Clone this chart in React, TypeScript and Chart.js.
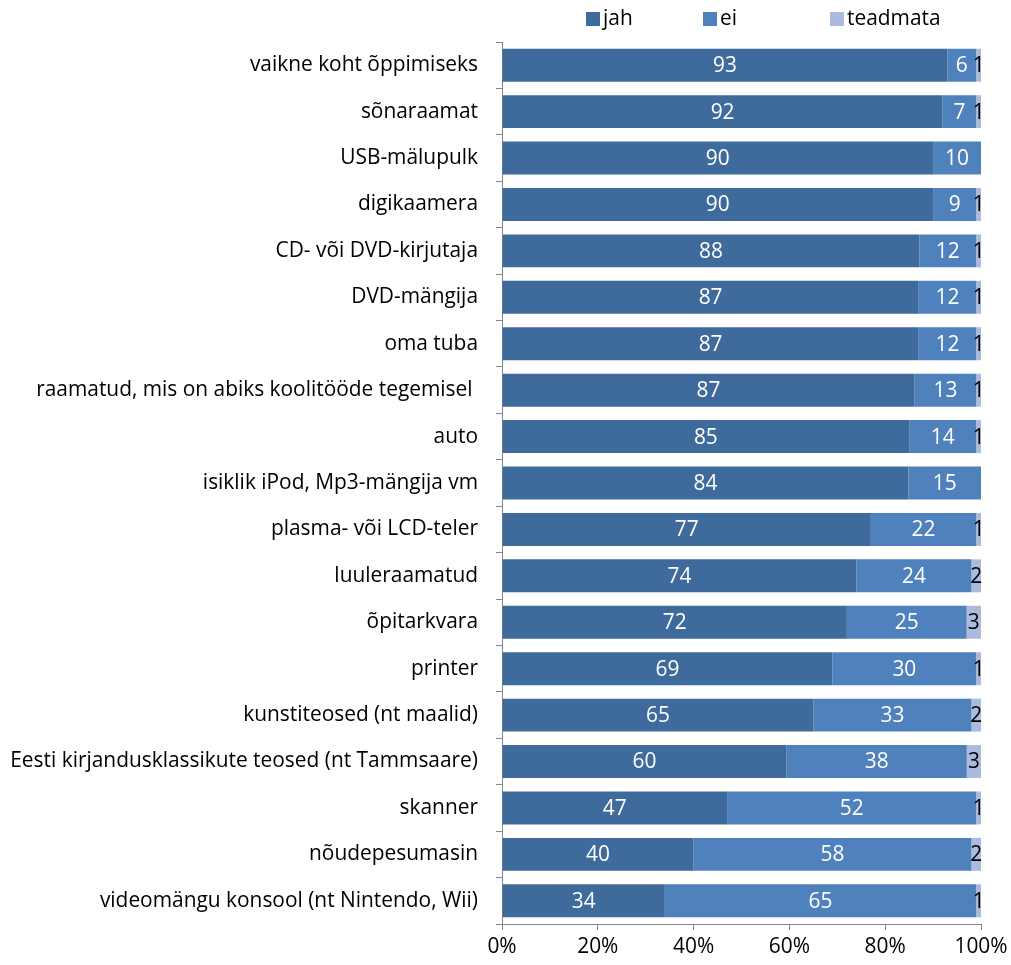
import React, { useEffect, useRef } from "react";
import { Chart, registerables } from "chart.js";

Chart.register(...registerables);

const categories = [
  "vaikne koht õppimiseks",
  "sõnaraamat",
  "USB-mälupulk",
  "digikaamera",
  "CD- või DVD-kirjutaja",
  "DVD-mängija",
  "oma tuba",
  "raamatud, mis on abiks koolitööde tegemisel ",
  "auto",
  "isiklik iPod, Mp3-mängija vm",
  "plasma- või LCD-teler",
  "luuleraamatud",
  "õpitarkvara",
  "printer",
  "kunstiteosed (nt maalid)",
  "Eesti kirjandusklassikute teosed (nt Tammsaare)",
  "skanner",
  "nõudepesumasin",
  "videomängu konsool (nt Nintendo, Wii)",
];

const jah = [93, 92, 90, 90, 88, 87, 87, 87, 85, 84, 77, 74, 72, 69, 65, 60, 47, 40, 34];
const ei = [6, 7, 10, 9, 12, 12, 12, 13, 14, 15, 22, 24, 25, 30, 33, 38, 52, 58, 65];
const teadmata = [1, 1, 0, 1, 1, 1, 1, 1, 1, 0, 1, 2, 3, 1, 2, 3, 1, 2, 1];

const seriesNames = ["jah", "ei", "teadmata"];
const seriesColors = ["#3F6A9C", "#4F81BD", "#AABBDD"];
const labelColors = ["#FFFFFF", "#FFFFFF", "#000000"];
const xTicks = [0, 20, 40, 60, 80, 100];

const FONT = "'Open Sans'";
const FONT_SIZE = 20.9;

const totals = categories.map((_, i) => jah[i] + ei[i] + teadmata[i]);
const pct = (arr: number[]) => arr.map((v, i) => (v / totals[i]) * 100);

const valueLabels = {
  id: "valueLabels",
  afterDatasetsDraw(chart: any) {
    const ctx = chart.ctx;
    ctx.save();
    ctx.font = `${FONT_SIZE}px ${FONT}`;
    ctx.textAlign = "center";
    ctx.textBaseline = "middle";
    chart.data.datasets.forEach((ds: any, di: number) => {
      const meta = chart.getDatasetMeta(di);
      meta.data.forEach((el: any, i: number) => {
        const raw = ds.raw[i];
        if (!raw) return;
        const cx = (el.x + el.base) / 2;
        ctx.fillStyle = labelColors[di];
        ctx.fillText(String(raw), cx, el.y + 1);
      });
    });
    ctx.restore();
  },
};

const legendOffsets = [84, 201, 328];
const customLegend = {
  id: "customLegend",
  afterDraw(chart: any) {
    const ctx = chart.ctx;
    const left = chart.chartArea.left;
    ctx.save();
    ctx.font = `${FONT_SIZE}px ${FONT}`;
    ctx.textBaseline = "middle";
    ctx.textAlign = "left";
    chart.data.datasets.forEach((ds: any, di: number) => {
      const x = left + legendOffsets[di];
      const y = 19;
      ctx.fillStyle = ds.backgroundColor;
      ctx.fillRect(x, y - 7, 14, 14);
      ctx.fillStyle = "#000";
      ctx.fillText(ds.label, x + 17, y);
    });
    ctx.restore();
  },
};

export default function App() {
  const ref = useRef<HTMLCanvasElement>(null);
  useEffect(() => {
    if (!ref.current) return;
    const datasets = [jah, ei, teadmata].map((arr, di) => ({
      label: seriesNames[di],
      data: pct(arr),
      raw: arr,
      backgroundColor: seriesColors[di],
      borderWidth: 0,
      barPercentage: 0.71,
      categoryPercentage: 1,
    }));
    const chart = new Chart(ref.current, {
      type: "bar",
      data: { labels: categories, datasets: datasets as any },
      options: {
        indexAxis: "y",
        animation: false,
        responsive: false,
        maintainAspectRatio: false,
        layout: { padding: { top: 42, right: 30, left: 0, bottom: 0 } },
        plugins: {
          legend: { display: false },
          tooltip: { enabled: false },
        },
        scales: {
          x: {
            stacked: true,
            min: 0,
            max: 100,
            afterBuildTicks: (s: any) => {
              s.ticks = xTicks.map((v) => ({ value: v }));
            },
            afterFit: (s: any) => {
              s.height = 41;
              s.paddingRight = 0;
              s.paddingLeft = 0;
            },
            grid: { drawOnChartArea: false, tickLength: 6, color: "#868686" },
            border: { color: "#868686", width: 1 },
            ticks: {
              color: "#000",
              font: { family: FONT, size: FONT_SIZE },
              padding: 5,
              maxRotation: 0,
              callback: (v: any) => v + "%",
            },
          },
          y: {
            stacked: true,
            afterFit: (s: any) => {
              s.width = 502;
              s.paddingTop = 0;
              s.paddingBottom = 0;
            },
            grid: { drawOnChartArea: false, tickLength: 6, color: "#868686" },
            border: { color: "#868686", width: 1 },
            ticks: {
              color: "#000",
              font: { family: FONT, size: FONT_SIZE },
              padding: 18,
              autoSkip: false,
            },
          },
        },
      },
      plugins: [valueLabels, customLegend],
    });
    return () => chart.destroy();
  }, []);
  return (
    <div style={{ position: "fixed", left: 0, top: 0, width: 1011, height: 965, background: "#fff" }}>
      <canvas ref={ref} width={1011} height={965} style={{ width: 1011, height: 965 }} />
    </div>
  );
}
